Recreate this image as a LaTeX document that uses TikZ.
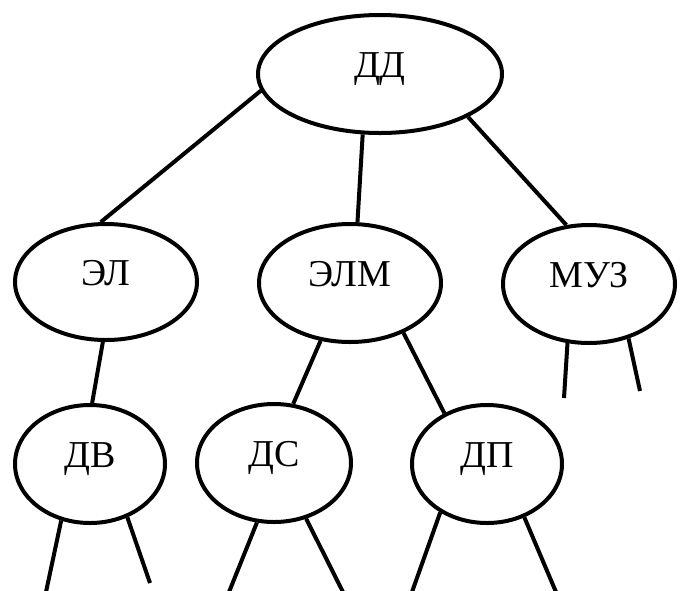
\documentclass[tikz,border=0pt]{standalone}
\usepackage{fontspec}
\setmainfont{Liberation Serif}
\usetikzlibrary{shapes.geometric}
\tikzset{
  treenode/.style={ellipse, draw=black, line width=4pt, inner sep=0pt,
    font=\fontsize{38}{42}\selectfont, text height=25pt, text depth=19pt},
  edge/.style={line width=4pt, draw=black}
}
\begin{document}
\begin{tikzpicture}[x=1pt,y=-1pt]
\useasboundingbox (0,0) rectangle (680,590);
\fill[white] (0,0) rectangle (680,590);
\node[treenode, minimum width=244pt, minimum height=118pt] (dd) at (380,74) {ДД};
\node[treenode, minimum width=182pt, minimum height=116pt] (el) at (106,282) {ЭЛ};
\node[treenode, minimum width=182pt, minimum height=118pt] (elm) at (350,283) {ЭЛМ};
\node[treenode, minimum width=172pt, minimum height=118pt] (muz) at (589,284) {МУЗ};
\node[treenode, minimum width=150pt, minimum height=118pt] (dv) at (90,464) {ДВ};
\node[treenode, minimum width=154pt, minimum height=118pt] (ds) at (274,463) {ДС};
\node[treenode, minimum width=150pt, minimum height=118pt] (dp) at (487,464) {ДП};
% free ends of stubs
\coordinate (muzL) at (564,398);
\coordinate (muzR) at (640,391);
\coordinate (dvL) at (46,592);
\coordinate (dvR) at (150,583);
\coordinate (dsL) at (229,592);
\coordinate (dsR) at (343,592);
\coordinate (dpL) at (412,592);
\coordinate (dpR) at (556,592);
% tree edges
\draw[edge] (dd.188.7) -- (el.95.7);
\draw[edge] (dd.254.4) -- (elm.83);
\draw[edge] (dd.334.8) -- (muz.111.8);
\draw[edge] (el.267) -- (dv.88);
\draw[edge] (elm.243.4) -- (ds.72.4);
\draw[edge] (elm.317.7) -- (dp.130.9);
% stubs
\draw[edge] (muz.250.7) -- (muzL);
\draw[edge] (muz.306) -- (muzR);
\draw[edge] (dv.243.4) -- (dvL);
\draw[edge] (dv.305.6) -- (dvR);
\draw[edge] (ds.254) -- (dsL);
\draw[edge] (ds.300.3) -- (dsR);
\draw[edge] (dp.226.2) -- (dpL);
\draw[edge] (dp.305.2) -- (dpR);
\end{tikzpicture}
\end{document}
